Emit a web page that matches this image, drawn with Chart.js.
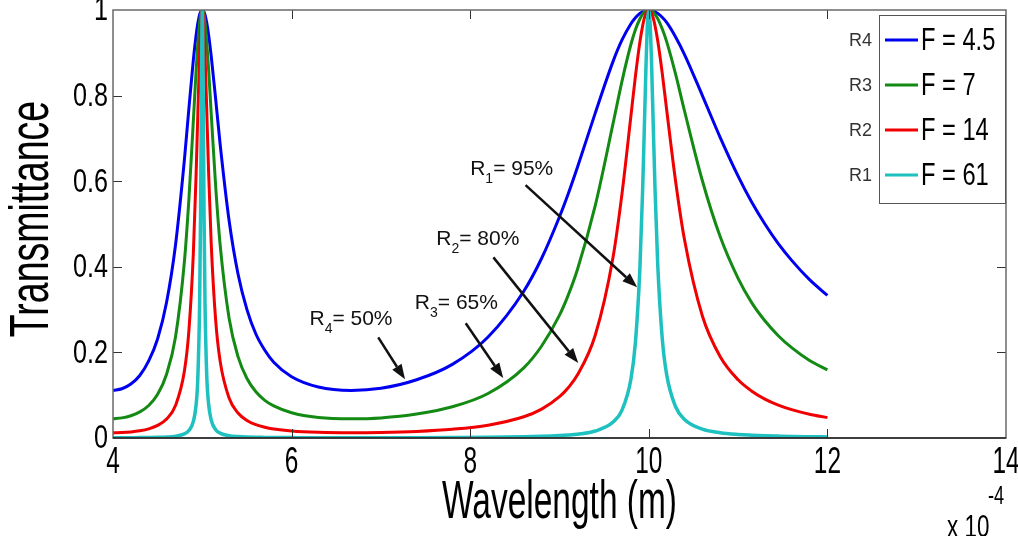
<!DOCTYPE html>
<html>
<head>
<meta charset="utf-8">
<title>Transmittance</title>
<script src="https://cdn.jsdelivr.net/npm/chart.js@4.4.0/dist/chart.umd.min.js"></script>
<style>
    html, body { margin: 0; padding: 0; background: #fff; }
</style>
</head>
<body>
<canvas id="tr-chart" width="1018" height="536"></canvas>
<script>
// wavelength samples (x 1e-4 m), denser around the two resonances
var wavelength = [4.0, 4.1, 4.2, 4.3, 4.4, 4.5, 4.6, 4.7, 4.8, 4.85,
    4.9, 4.93, 4.95, 4.97, 4.98, 4.99, 5.0, 5.01, 5.02, 5.03,
    5.05, 5.07, 5.1, 5.15, 5.2, 5.3, 5.4, 5.5, 5.6, 5.7,
    5.8, 6.0, 6.3, 6.67, 7.0, 7.4, 7.8, 8.2, 8.6, 8.8,
    9.0, 9.1, 9.2, 9.4, 9.6, 9.7, 9.8, 9.85, 9.9, 9.93,
    9.95, 9.97, 9.98, 9.99, 10.0, 10.01, 10.02, 10.03, 10.05, 10.07,
    10.1, 10.15, 10.2, 10.3, 10.4, 10.6, 10.8, 11.0, 11.15, 11.3,
    11.45, 11.6, 11.8, 12.0];

// transmittance for each mirror reflectivity
var transR4 = [0.111, 0.115, 0.126, 0.146, 0.180, 0.232, 0.317, 0.451, 0.651, 0.770,
    0.884, 0.940, 0.969, 0.989, 0.995, 0.999, 1, 0.999, 0.995, 0.989,
    0.970, 0.943, 0.892, 0.791, 0.686, 0.508, 0.383, 0.300, 0.243, 0.205,
    0.177, 0.143, 0.119, 0.111, 0.116, 0.136, 0.172, 0.236, 0.343, 0.420,
    0.517, 0.572, 0.632, 0.759, 0.880, 0.930, 0.968, 0.982, 0.992, 0.996,
    0.998, 0.999, 1.0, 1.0, 1, 1.0, 1.0, 0.999, 0.998, 0.996,
    0.992, 0.983, 0.971, 0.937, 0.896, 0.800, 0.702, 0.612, 0.552, 0.500,
    0.454, 0.415, 0.370, 0.333];
var transR3 = [0.045, 0.047, 0.052, 0.061, 0.076, 0.102, 0.149, 0.236, 0.413, 0.558,
    0.742, 0.856, 0.921, 0.970, 0.987, 0.997, 1, 0.997, 0.987, 0.971,
    0.924, 0.863, 0.757, 0.587, 0.451, 0.280, 0.190, 0.139, 0.108, 0.088,
    0.075, 0.059, 0.048, 0.045, 0.047, 0.056, 0.073, 0.104, 0.164, 0.215,
    0.287, 0.335, 0.393, 0.543, 0.735, 0.834, 0.920, 0.954, 0.979, 0.990,
    0.995, 0.998, 0.999, 1.0, 1, 1.0, 0.999, 0.998, 0.995, 0.990,
    0.980, 0.956, 0.926, 0.850, 0.764, 0.601, 0.470, 0.373, 0.317, 0.274,
    0.239, 0.211, 0.181, 0.159];
var transR2 = [0.0123, 0.0128, 0.0142, 0.0169, 0.0214, 0.0294, 0.0442, 0.0758, 0.157, 0.251,
    0.433, 0.612, 0.757, 0.897, 0.952, 0.988, 1, 0.988, 0.952, 0.899,
    0.764, 0.625, 0.453, 0.274, 0.179, 0.0935, 0.0584, 0.0410, 0.0312, 0.0251,
    0.0211, 0.0164, 0.0133, 0.0123, 0.0130, 0.0154, 0.0204, 0.0300, 0.0496, 0.0675,
    0.0965, 0.118, 0.147, 0.240, 0.423, 0.571, 0.753, 0.845, 0.925, 0.962,
    0.981, 0.993, 0.997, 0.999, 1, 0.999, 0.997, 0.993, 0.981, 0.963,
    0.928, 0.853, 0.767, 0.600, 0.463, 0.285, 0.190, 0.136, 0.110, 0.0909,
    0.0769, 0.0662, 0.0555, 0.0476];
var transR1 = [0.0007, 0.0007, 0.0008, 0.0009, 0.0012, 0.0016, 0.0024, 0.0043, 0.0097, 0.0173,
    0.0387, 0.0765, 0.141, 0.314, 0.508, 0.806, 1, 0.807, 0.512, 0.319,
    0.145, 0.0806, 0.0418, 0.0195, 0.0114, 0.0054, 0.0033, 0.0022, 0.0017, 0.0014,
    0.0011, 0.0009, 0.0007, 0.0007, 0.0007, 0.0008, 0.0011, 0.0016, 0.0027, 0.0038,
    0.0056, 0.0070, 0.0090, 0.0163, 0.0372, 0.0653, 0.138, 0.223, 0.395, 0.573,
    0.725, 0.880, 0.943, 0.985, 1, 0.985, 0.944, 0.882, 0.729, 0.580,
    0.405, 0.234, 0.148, 0.073, 0.0433, 0.0206, 0.0122, 0.0082, 0.0065, 0.0052,
    0.0044, 0.0037, 0.0031, 0.0026];

var finesseLabels = ['F = 4.5', 'F = 7', 'F = 14', 'F = 61'];
var mirrorLabels = ['R4', 'R3', 'R2', 'R1'];
var curveColors = ['#0000f0', '#148a14', '#f00000', '#1ec0c0'];

var xTicks = [4, 6, 8, 10, 12, 14];
var xTickLabels = ['4', '6', '8', '10', '12', '14'];
var yTicks = [0, 0.2, 0.4, 0.6, 0.8, 1];
var yTickLabels = ['0', '0.2', '0.4', '0.6', '0.8', '1'];

// textarrow notes: index, value text
var noteIndex = ['1', '2', '3', '4'];
var noteValue = ['= 95%', '= 80%', '= 65%', '= 50%'];
// where the notes sit, in data units: text origin, arrow tail, arrow head
var noteText = [[8.00, 0.614], [7.62, 0.450], [7.38, 0.301], [6.20, 0.263]];
var noteTail = [[8.62, 0.591], [8.26, 0.422], [7.95, 0.268], [6.97, 0.235]];
var noteHead = [[9.87, 0.352], [9.21, 0.175], [8.37, 0.140], [7.27, 0.137]];

var SANS = '"Liberation Sans", Arial, sans-serif';

function toPoints(ys) {
    var pts = [];
    for (var i = 0; i < wavelength.length; i++) {
        pts.push({ x: wavelength[i], y: ys[i] });
    }
    return pts;
}

// tall, narrow text: Liberation Sans squeezed horizontally
function narrowText(ctx, text, x, y, size, sx, align, baseline, angle) {
    ctx.save();
    ctx.translate(x, y);
    if (angle) ctx.rotate(angle);
    ctx.scale(sx, 1);
    ctx.font = size + 'px ' + SANS;
    ctx.textAlign = align;
    ctx.textBaseline = baseline;
    ctx.fillText(text, 0, 0);
    ctx.restore();
}

function drawArrow(ctx, x1, y1, x2, y2) {
    var ang = Math.atan2(y2 - y1, x2 - x1);
    var headLen = 15, headHalf = 5.5;
    var bx = x2 - headLen * Math.cos(ang);
    var by = y2 - headLen * Math.sin(ang);
    ctx.beginPath();
    ctx.moveTo(x1, y1);
    ctx.lineTo(bx, by);
    ctx.stroke();
    ctx.beginPath();
    ctx.moveTo(x2, y2);
    ctx.lineTo(bx + headHalf * Math.sin(ang), by - headHalf * Math.cos(ang));
    ctx.lineTo(bx - headHalf * Math.sin(ang), by + headHalf * Math.cos(ang));
    ctx.closePath();
    ctx.fill();
}

// axes box with inward ticks, labels, legend, arrows and the exponent label
var decorPlugin = {
    id: 'decor',
    afterDatasetsDraw: function(chart) {
        var ctx = chart.ctx;
        var a = chart.chartArea;
        var xs = chart.scales.x, ys = chart.scales.y;
        var i, p;
        ctx.save();

        // inward tick marks on all four sides
        ctx.strokeStyle = '#333';
        ctx.lineWidth = 1;
        ctx.beginPath();
        for (i = 1; i < xTicks.length - 1; i++) {
            p = Math.round(xs.getPixelForValue(xTicks[i])) + 0.5;
            ctx.moveTo(p, a.bottom); ctx.lineTo(p, a.bottom - 9);
            ctx.moveTo(p, a.top); ctx.lineTo(p, a.top + 9);
        }
        for (i = 1; i < yTicks.length - 1; i++) {
            p = Math.round(ys.getPixelForValue(yTicks[i])) + 0.5;
            ctx.moveTo(a.left, p); ctx.lineTo(a.left + 9, p);
            ctx.moveTo(a.right, p); ctx.lineTo(a.right - 9, p);
        }
        ctx.stroke();

        // box
        ctx.strokeStyle = '#6a6a6a';
        ctx.lineWidth = 1.5;
        ctx.strokeRect(a.left, a.top, a.right - a.left, a.bottom - a.top);
        ctx.strokeStyle = '#222';
        ctx.beginPath();
        ctx.moveTo(a.left, a.bottom); ctx.lineTo(a.right, a.bottom);
        ctx.stroke();

        // tick labels and axis titles
        ctx.fillStyle = '#000';
        for (i = 0; i < xTicks.length; i++) {
            narrowText(ctx, xTickLabels[i], xs.getPixelForValue(xTicks[i]), a.bottom + 25,
                37, 0.66, 'center', 'middle');
        }
        for (i = 0; i < yTicks.length; i++) {
            narrowText(ctx, yTickLabels[i], a.left - 5, ys.getPixelForValue(yTicks[i]) + 1,
                34, 0.74, 'right', 'middle');
        }
        narrowText(ctx, xs.options.title.text, (a.left + a.right) / 2, a.bottom + 65,
            54, 0.62, 'center', 'middle');
        narrowText(ctx, ys.options.title.text, 33, (a.top + a.bottom) / 2 - 5,
            56, 0.67, 'center', 'middle', -Math.PI / 2);

        // x axis multiplier
        narrowText(ctx, 'x 10', a.right - 59, a.bottom + 99, 32, 0.7, 'left', 'alphabetic');
        narrowText(ctx, '-4', a.right - 18, a.bottom + 66, 26, 0.7, 'left', 'alphabetic');

        // legend
        var bw = 126, bh = 188;
        var bx = a.right - bw - 1, by = a.top + 5;
        ctx.fillStyle = '#fff';
        ctx.fillRect(bx, by, bw, bh);
        ctx.strokeStyle = '#555';
        ctx.lineWidth = 1;
        ctx.strokeRect(bx + 0.5, by + 0.5, bw, bh);
        for (i = 0; i < finesseLabels.length; i++) {
            var ry = by + 25 + i * 45;
            ctx.strokeStyle = curveColors[i];
            ctx.lineWidth = 3;
            ctx.beginPath();
            ctx.moveTo(bx + 6, ry); ctx.lineTo(bx + 39, ry);
            ctx.stroke();
            ctx.fillStyle = '#000';
            narrowText(ctx, finesseLabels[i], bx + 42, ry + 1, 32, 0.74, 'left', 'middle');
            ctx.fillStyle = '#333';
            ctx.font = '18px ' + SANS;
            ctx.textAlign = 'right';
            ctx.textBaseline = 'middle';
            ctx.fillText(mirrorLabels[i], bx - 7, ry + 1);
        }

        // reflectivity notes with arrows
        ctx.fillStyle = '#111';
        ctx.strokeStyle = '#111';
        ctx.lineWidth = 2.5;
        ctx.textAlign = 'left';
        ctx.textBaseline = 'alphabetic';
        for (i = 0; i < noteIndex.length; i++) {
            var tx = xs.getPixelForValue(noteText[i][0]);
            var ty = ys.getPixelForValue(noteText[i][1]);
            ctx.font = '21px ' + SANS;
            ctx.fillText('R', tx, ty);
            var w = ctx.measureText('R').width;
            ctx.font = '14px ' + SANS;
            ctx.fillText(noteIndex[i], tx + w, ty + 8);
            w += ctx.measureText(noteIndex[i]).width;
            ctx.font = '21px ' + SANS;
            ctx.fillText(noteValue[i], tx + w, ty);
            drawArrow(ctx,
                xs.getPixelForValue(noteTail[i][0]), ys.getPixelForValue(noteTail[i][1]),
                xs.getPixelForValue(noteHead[i][0]), ys.getPixelForValue(noteHead[i][1]));
        }

        ctx.restore();
    }
};

var datasets = [];
var sets = [transR4, transR3, transR2, transR1];
for (var k = 0; k < sets.length; k++) {
    datasets.push({
        label: finesseLabels[k],
        data: toPoints(sets[k]),
        borderColor: curveColors[k],
        borderWidth: k === 3 ? 3.5 : 3,
        pointRadius: 0,
        fill: false,
        cubicInterpolationMode: 'monotone',
        order: 4 - k
    });
}

new Chart(document.getElementById('tr-chart').getContext('2d'), {
    type: 'line',
    data: { datasets: datasets },
    options: {
        responsive: false,
        animation: false,
        devicePixelRatio: 1,
        layout: { padding: { top: 10, right: 12, left: 0, bottom: 0 } },
        plugins: {
            legend: { display: false },
            tooltip: { enabled: false }
        },
        scales: {
            x: {
                type: 'linear',
                min: 4,
                max: 14,
                afterBuildTicks: function(scale) {
                    scale.ticks = xTicks.map(function(v) { return { value: v }; });
                },
                afterFit: function(scale) { scale.height = 98; },
                grid: { display: false, drawTicks: false },
                border: { display: false },
                ticks: { display: false },
                title: { display: false, text: 'Wavelength (m)' }
            },
            y: {
                min: 0,
                max: 1,
                afterBuildTicks: function(scale) {
                    scale.ticks = yTicks.map(function(v) { return { value: v }; });
                },
                afterFit: function(scale) { scale.width = 113; },
                grid: { display: false, drawTicks: false },
                border: { display: false },
                ticks: { display: false },
                title: { display: false, text: 'Transmittance' }
            }
        }
    },
    plugins: [decorPlugin]
});
</script>
</body>
</html>
